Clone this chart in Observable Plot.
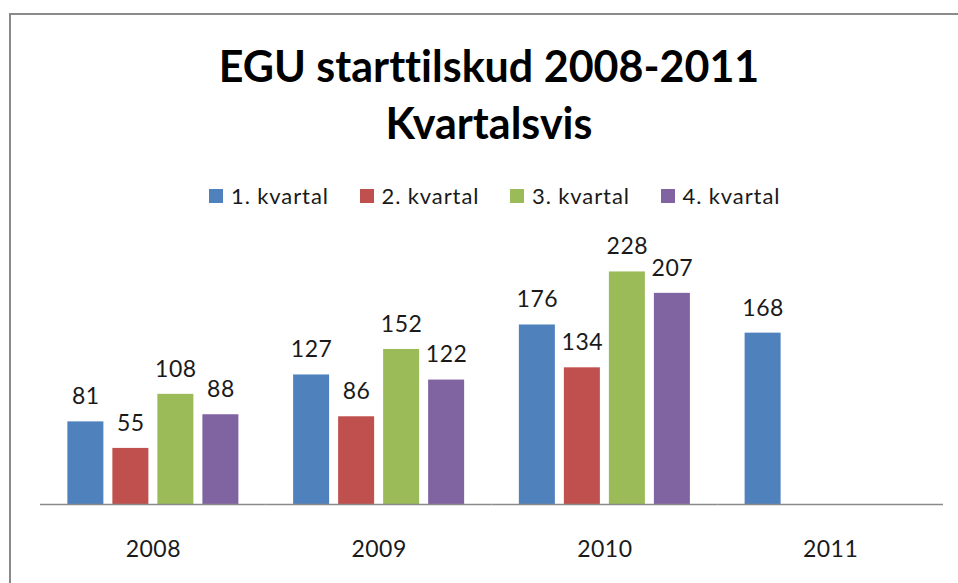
<!DOCTYPE html>
<html><head><meta charset="utf-8">
<script src="https://cdn.jsdelivr.net/npm/d3@7"></script>
<script src="https://cdn.jsdelivr.net/npm/@observablehq/plot@0.6"></script>
<style>
body{margin:0;background:#fff;}
#chart{position:relative;width:958px;height:583px;overflow:hidden;font-family:Lato,"Open Sans",sans-serif;color:#1a1a1a;font-variant-ligatures:none;}
#frame{position:absolute;left:9px;top:13px;right:-10px;bottom:-10px;border-left:2px solid #8a8a8a;border-top:2px solid #8a8a8a;}
#title{position:absolute;left:0;width:978px;top:37px;text-align:center;font-weight:bold;font-size:43px;line-height:57px;color:#000;font-variant-ligatures:none;font-feature-settings:"liga" 0;}
#legend{position:absolute;left:209px;top:183px;display:flex;}
.item{display:flex;align-items:center;width:150.5px;font-size:22px;line-height:25px;letter-spacing:0.9px;}
.sw{width:14px;height:14px;margin-right:8px;flex:none;}
#plot{position:absolute;left:0;top:220px;}
</style>
</head><body>
<div id="chart">
  <div id="frame"></div>
  <div id="title">EGU starttilskud 2008-2011<br>Kvartalsvis</div>
  <div id="legend"></div>
  <div id="plot"></div>
</div>
<script>
const years = ["2008","2009","2010","2011"];
const quarters = ["1. kvartal","2. kvartal","3. kvartal","4. kvartal"];
const q1 = [81,127,176,168];
const q2 = [55,86,134,null];
const q3 = [108,152,228,null];
const q4 = [88,122,207,null];
const colors = ["#4F81BD","#C0504D","#9BBB59","#8064A2"];

const rows = [];
[q1,q2,q3,q4].forEach((s,qi)=> s.forEach((v,yi)=>{
  if (v != null) rows.push({year: years[yi], quarter: quarters[qi], value: v});
}));

const legend = document.getElementById("legend");
quarters.forEach((q,i)=>{
  const it = document.createElement("div"); it.className="item";
  const sw = document.createElement("span"); sw.className="sw"; sw.style.background=colors[i];
  const tx = document.createElement("span"); tx.textContent=q;
  it.appendChild(sw); it.appendChild(tx); legend.appendChild(it);
});

const chart = Plot.plot({
  width: 958, height: 344,
  marginLeft: 40, marginRight: 15, marginTop: 29, marginBottom: 60,
  style: {fontFamily: "Lato, 'Open Sans', sans-serif", fontSize: "23px", color: "#1a1a1a", background: "transparent", letterSpacing: "0.5px"},
  fx: {domain: years, padding: 0, round: false, label: null, tickSize: 0, tickPadding: 36},
  x: {domain: quarters, paddingInner: 0.2, paddingOuter: 0.608, round: false, axis: null},
  y: {domain: [0, 250], axis: null},
  color: {domain: quarters, range: colors},
  marks: [
    Plot.barY(rows, {fx: "year", x: "quarter", y: "value", fill: "quarter"}),
    Plot.text(rows, {fx: "year", x: "quarter", y: "value", text: d => String(d.value), dy: -25, fontSize: 23, fill: "#1a1a1a"}),
    Plot.ruleY([0], {stroke: "#8a8a8a", strokeWidth: 1.5})
  ]
});
document.getElementById("plot").appendChild(chart);
</script>
</body></html>
